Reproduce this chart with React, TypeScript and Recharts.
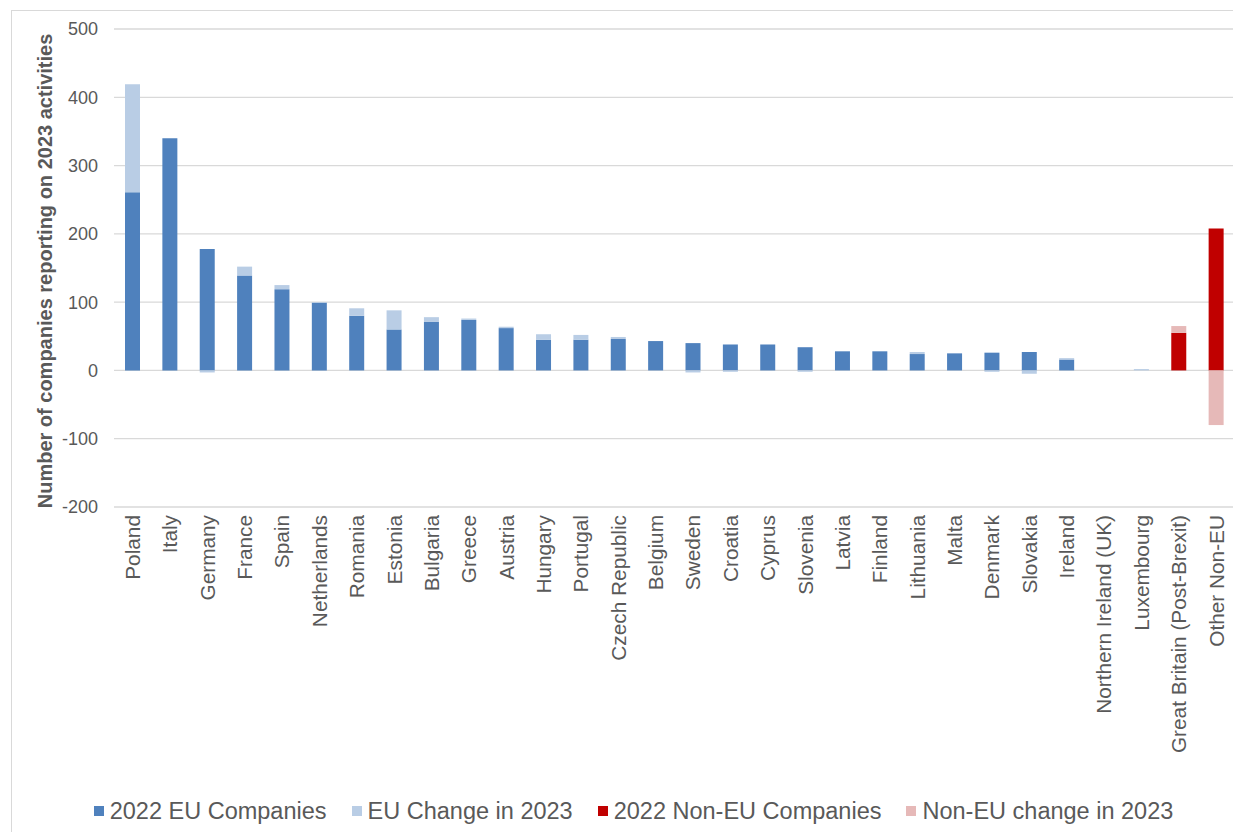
import React from 'react';
import { BarChart, Bar, XAxis, YAxis, CartesianGrid, Legend } from 'recharts';

const categories = [
  'Poland', 'Italy', 'Germany', 'France', 'Spain', 'Netherlands', 'Romania', 'Estonia',
  'Bulgaria', 'Greece', 'Austria', 'Hungary', 'Portugal', 'Czech Republic', 'Belgium',
  'Sweden', 'Croatia', 'Cyprus', 'Slovenia', 'Latvia', 'Finland', 'Lithuania', 'Malta',
  'Denmark', 'Slovakia', 'Ireland', 'Northern Ireland (UK)', 'Luxembourg',
  'Great Britain (Post-Brexit)', 'Other Non-EU',
];
const eu2022 = [261, 340, 178, 139, 119, 99, 80, 60, 71, 74, 62, 45, 45, 46, 43, 40, 38, 38, 34, 28, 28, 24, 25, 26, 27, 16, 0, 0, null, null];
const euChange = [158, 0, -3, 13, 6, 1, 11, 28, 7, 2, 2, 8, 7, 3, 0, -3, -2, 0, -2, 0, 0, 3, 0, -2, -5, 2, 0, 2, null, null];
const nonEu2022 = [null, null, null, null, null, null, null, null, null, null, null, null, null, null, null, null, null, null, null, null, null, null, null, null, null, null, null, null, 55, 208];
const nonEuChange = [null, null, null, null, null, null, null, null, null, null, null, null, null, null, null, null, null, null, null, null, null, null, null, null, null, null, null, null, 10, -80];
const yTicks = [-200, -100, 0, 100, 200, 300, 400, 500];

const series = [
  { key: 'eu2022', name: '2022 EU Companies', color: '#4F81BD' },
  { key: 'euChange', name: 'EU Change in 2023', color: '#B9CDE5' },
  { key: 'nonEu2022', name: '2022 Non-EU Companies', color: '#C00000' },
  { key: 'nonEuChange', name: 'Non-EU change in 2023', color: '#E6B9B8' },
];

const data = categories.map((name, i) => ({
  name,
  eu2022: eu2022[i],
  euChange: euChange[i],
  nonEu2022: nonEu2022[i],
  nonEuChange: nonEuChange[i],
}));

const FONT = 'Arial, "Liberation Sans", sans-serif';
const GREY = '#595959';

const CategoryTick = (props: any) => {
  const { x, y, payload } = props;
  return (
    <text
      x={x}
      y={y}
      transform={`rotate(-90, ${x}, ${y})`}
      textAnchor="end"
      dy="0.35em"
      fill={GREY}
      fontSize={20.8}
      fontFamily={FONT}
    >
      {payload.value}
    </text>
  );
};

const YTitle = () => (
  <text
    x={33}
    y={260}
    transform="rotate(-90, 33, 260)"
    textAnchor="middle"
    dominantBaseline="central"
    fill={GREY}
    fontSize={20}
    fontWeight="bold"
    fontFamily={FONT}
  >
    Number of companies reporting on 2023 activities
  </text>
);

const LegendBox = () => (
  <div
    style={{
      height: 28,
      display: 'flex',
      justifyContent: 'center',
      alignItems: 'center',
      paddingLeft: 20,
      fontFamily: FONT,
      fontSize: 23.5,
      color: GREY,
    }}
  >
    {series.map((s, i) => (
      <div key={s.key} style={{ display: 'flex', alignItems: 'center', marginRight: i < series.length - 1 ? 25 : 0 }}>
        <span style={{ width: 10, height: 10, background: s.color, marginRight: 6, display: 'inline-block' }} />
        <span>{s.name}</span>
      </div>
    ))}
  </div>
);

export default function App() {
  return (
    <div style={{ marginLeft: 3, marginTop: 2, border: '1px solid #d9d9d9', width: 1229, height: 822, background: '#fff' }}>
      <BarChart
        width={1229}
        height={822}
        data={data}
        stackOffset="sign"
        barSize={15}
        margin={{ top: 18, right: 6, left: 0, bottom: 8 }}
      >
        <CartesianGrid vertical={false} stroke="#d9d9d9" strokeWidth={1.3} />
        <XAxis
          dataKey="name"
          interval={0}
          axisLine={false}
          tickLine={false}
          height={290}
          tick={<CategoryTick />}
        />
        <YAxis
          width={102}
          domain={[-200, 500]}
          ticks={yTicks}
          axisLine={false}
          tickLine={false}
          tickMargin={10}
          tick={{ fill: GREY, fontSize: 18, fontFamily: FONT }}
          label={{ content: () => <YTitle /> }}
        />
        <Legend verticalAlign="bottom" content={() => <LegendBox />} />
        {series.map((s) => (
          <Bar key={s.key} dataKey={s.key} name={s.name} stackId="a" fill={s.color} isAnimationActive={false} />
        ))}
      </BarChart>
    </div>
  );
}
